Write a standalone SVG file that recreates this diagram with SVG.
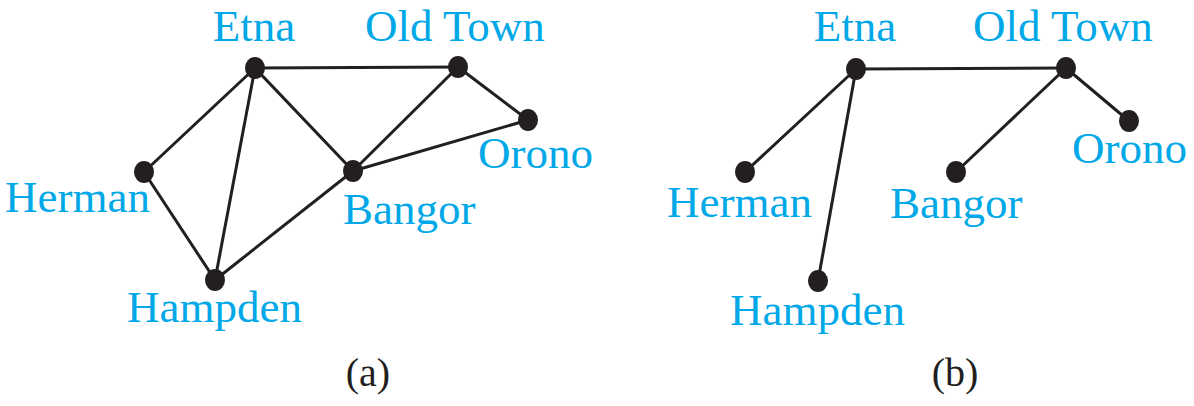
<svg xmlns="http://www.w3.org/2000/svg" width="1194" height="406" viewBox="0 0 1194 406">
<style>
.lbl{font-family:"Liberation Serif","Times New Roman",serif;font-size:45px;fill:#00a8e8}
.cap{font-family:"Liberation Serif","Times New Roman",serif;font-size:40px;fill:#231f20;text-anchor:middle}
.e{stroke:#231f20;stroke-width:3;fill:none}
.n{fill:#231f20}
</style>
<rect width="1194" height="406" fill="#ffffff"/>
<g id="connectors">
<line class="e" x1="255" y1="68" x2="458" y2="67"/>
<line class="e" x1="255" y1="68" x2="144" y2="172"/>
<line class="e" x1="255" y1="68" x2="215" y2="280"/>
<line class="e" x1="255" y1="68" x2="353" y2="171"/>
<line class="e" x1="458" y1="67" x2="353" y2="171"/>
<line class="e" x1="458" y1="67" x2="528" y2="120"/>
<line class="e" x1="353" y1="171" x2="528" y2="120"/>
<line class="e" x1="144" y1="172" x2="215" y2="280"/>
<line class="e" x1="215" y1="280" x2="353" y2="171"/>
<line class="e" x1="856" y1="69" x2="1066" y2="68"/>
<line class="e" x1="856" y1="69" x2="745" y2="172"/>
<line class="e" x1="856" y1="69" x2="818" y2="281"/>
<line class="e" x1="1066" y1="68" x2="956" y2="172"/>
<line class="e" x1="1066" y1="68" x2="1129" y2="121"/>
</g>
<g id="a-etna"><ellipse class="n" cx="255" cy="68" rx="10" ry="11"/><text class="lbl" x="254" y="41" text-anchor="middle">Etna</text></g>
<g id="a-oldtown"><ellipse class="n" cx="458" cy="67" rx="10" ry="11"/><text class="lbl" x="365" y="41">Old Town</text></g>
<g id="a-orono"><ellipse class="n" cx="528" cy="120" rx="10" ry="11"/><text class="lbl" x="478" y="168">Orono</text></g>
<g id="a-bangor"><ellipse class="n" cx="353" cy="171" rx="10" ry="11"/><text class="lbl" x="343" y="224">Bangor</text></g>
<g id="a-herman"><ellipse class="n" cx="144" cy="172" rx="10" ry="11"/><text class="lbl" x="5" y="212">Herman</text></g>
<g id="a-hampden"><ellipse class="n" cx="215" cy="280" rx="10" ry="11"/><text class="lbl" x="127" y="322">Hampden</text></g>
<g id="b-etna"><ellipse class="n" cx="856" cy="69" rx="10" ry="11"/><text class="lbl" x="855" y="41" text-anchor="middle">Etna</text></g>
<g id="b-oldtown"><ellipse class="n" cx="1066" cy="68" rx="10" ry="11"/><text class="lbl" x="973" y="41">Old Town</text></g>
<g id="b-orono"><ellipse class="n" cx="1129" cy="121" rx="10" ry="11"/><text class="lbl" x="1072" y="163">Orono</text></g>
<g id="b-bangor"><ellipse class="n" cx="956" cy="172" rx="10" ry="11"/><text class="lbl" x="890" y="218">Bangor</text></g>
<g id="b-herman"><ellipse class="n" cx="745" cy="172" rx="10" ry="11"/><text class="lbl" x="667" y="217">Herman</text></g>
<g id="b-hampden"><ellipse class="n" cx="818" cy="281" rx="10" ry="11"/><text class="lbl" x="730" y="325">Hampden</text></g>
<text class="cap" x="368" y="386">(a)</text>
<text class="cap" x="955" y="386">(b)</text>
</svg>
